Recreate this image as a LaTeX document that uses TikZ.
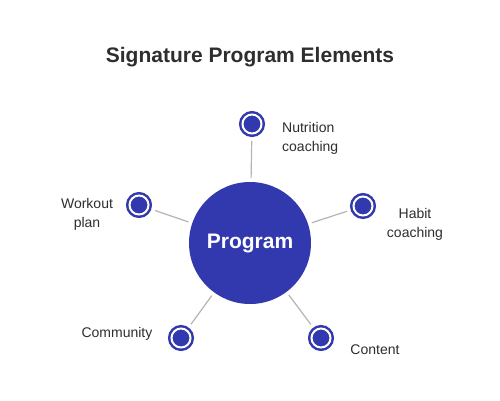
\documentclass[tikz,border=0pt]{standalone}
\usepackage{fontspec}
\setmainfont{Liberation Sans}
\definecolor{progblue}{HTML}{3239AF}
\definecolor{spoke}{HTML}{B4B4B4}
\definecolor{inktext}{HTML}{2E2E2E}
\tikzstyle{hub}=[circle, fill=progblue, inner sep=0pt, outer sep=0pt, minimum size=122pt, text=white, font=\bfseries\fontsize{21}{24}\selectfont]
\tikzstyle{dot}=[circle, fill=progblue, draw=white, line width=2pt, inner sep=0pt, outer sep=3.5pt, minimum size=19pt, preaction={draw=progblue, line width=7pt}]
\tikzstyle{spokeline}=[spoke, line width=1.2pt, shorten <= 4pt, shorten >= 4pt]
\tikzstyle{lbl}=[text=inktext, font=\fontsize{14}{19}\selectfont, inner sep=0pt]

\begin{document}
\begin{tikzpicture}[x=1pt, y=-1pt]
				\useasboundingbox[fill=white] (0,0) rectangle (500,400);

				\node[text=inktext, font=\bfseries\fontsize{21}{24}\selectfont] (title) at (250,57) {Signature Program Elements};

				\node[hub] (prog) at (250,243) {Program};

				\node[dot] (nut) at (252,124) {};
				\node[dot] (hab) at (363,206) {};
				\node[dot] (wrk) at (139,205) {};
				\node[dot] (com) at (181,338) {};
				\node[dot] (con) at (321,338) {};

				\draw[spokeline] (prog) -- (nut);
				\draw[spokeline] (prog) -- (hab);
				\draw[spokeline] (prog) -- (wrk);
				\draw[spokeline] (prog) -- (com);
				\draw[spokeline] (prog) -- (con);

				\node[lbl, align=left, anchor=west] (nutl) at (282,138.5) {Nutrition\\coaching};
				\node[lbl, align=center] (habl) at (415,224.5) {Habit\\coaching};
				\node[lbl, align=center] (wrkl) at (87,214) {Workout\\plan};
				\node[lbl] (coml) at (117,333.5) {Community};
				\node[lbl] (conl) at (375,349.5) {Content};
			\end{tikzpicture}
\end{document}
